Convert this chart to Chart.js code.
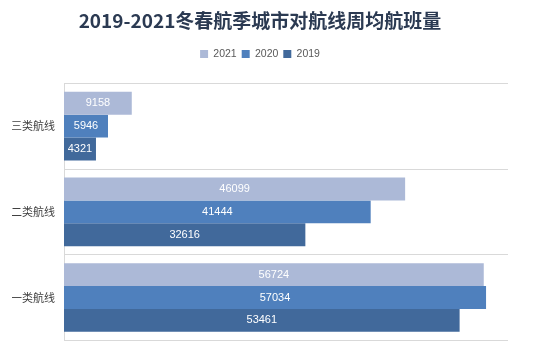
<!DOCTYPE html>
<html><head><meta charset="utf-8">
<script src="https://cdn.jsdelivr.net/npm/chart.js@4/dist/chart.umd.min.js"></script>
<style>html,body{margin:0;padding:0;background:#fff}#wrap{width:544px;height:356px}</style>
</head><body><div id="wrap"><canvas id="c"></canvas></div>
<script>
const categories = ['三类航线', '二类航线', '一类航线'];
const seriesNames = ['2021', '2020', '2019'];
const values2021 = [9158, 46099, 56724];
const values2020 = [5946, 41444, 57034];
const values2019 = [4321, 32616, 53461];
const colors = ['#acb9d7', '#4f80bd', '#41699b'];

const labelPlugin = {
  id: 'barLabels',
  afterDatasetsDraw(chart) {
    const ctx = chart.ctx;
    ctx.save();
    ctx.font = '11px "Liberation Sans", sans-serif';
    ctx.fillStyle = '#ffffff';
    ctx.textAlign = 'center';
    ctx.textBaseline = 'middle';
    chart.data.datasets.forEach((ds, i) => {
      const meta = chart.getDatasetMeta(i);
      meta.data.forEach((el, j) => {
        const cx = (el.x + el.base) / 2;
        ctx.fillText(String(ds.data[j]), cx, el.y);
      });
    });
    ctx.restore();
  }
};

const legendGap = {
  id: 'legendGap',
  beforeInit(chart) {
    const lg = chart.legend;
    if (!lg) return;
    const fit = lg.fit;
    lg.fit = function () { fit.call(this); this.height += 14; };
  }
};

new Chart(document.getElementById('c'), {
  type: 'bar',
  data: {
    labels: categories,
    datasets: [
      { label: seriesNames[0], data: values2021, backgroundColor: colors[0] },
      { label: seriesNames[1], data: values2020, backgroundColor: colors[1] },
      { label: seriesNames[2], data: values2019, backgroundColor: colors[2] }
    ]
  },
  options: {
    indexAxis: 'y',
    responsive: true,
    maintainAspectRatio: false,
    animation: false,
    datasets: { bar: { categoryPercentage: 0.8, barPercentage: 1.0 } },
    layout: { padding: { left: 12, right: 36, top: 0, bottom: 15 } },
    plugins: {
      title: {
        display: true,
        text: '2019-2021冬春航季城市对航线周均航班量',
        color: '#2b3a52',
        font: { size: 19, weight: 'bold', family: '"Noto Sans CJK SC", sans-serif' },
        padding: { top: 9, bottom: 12 }
      },
      legend: {
        display: true,
        position: 'top',
        labels: {
          boxWidth: 8, boxHeight: 8, padding: 5,
          color: '#595959',
          font: { size: 10.5, family: '"Liberation Sans", sans-serif' }
        }
      },
      tooltip: { enabled: false }
    },
    scales: {
      x: { display: false, min: 0, max: 60000 },
      y: {
        grid: { offset: true, color: '#d9d9d9', drawTicks: false },
        border: { color: '#d9d9d9' },
        ticks: { color: '#404040', padding: 9, font: { size: 11, family: '"Noto Sans CJK SC", sans-serif' } },
        afterFit(axis) { axis.width = 52; }
      }
    }
  },
  plugins: [labelPlugin, legendGap]
});
</script></body></html>
